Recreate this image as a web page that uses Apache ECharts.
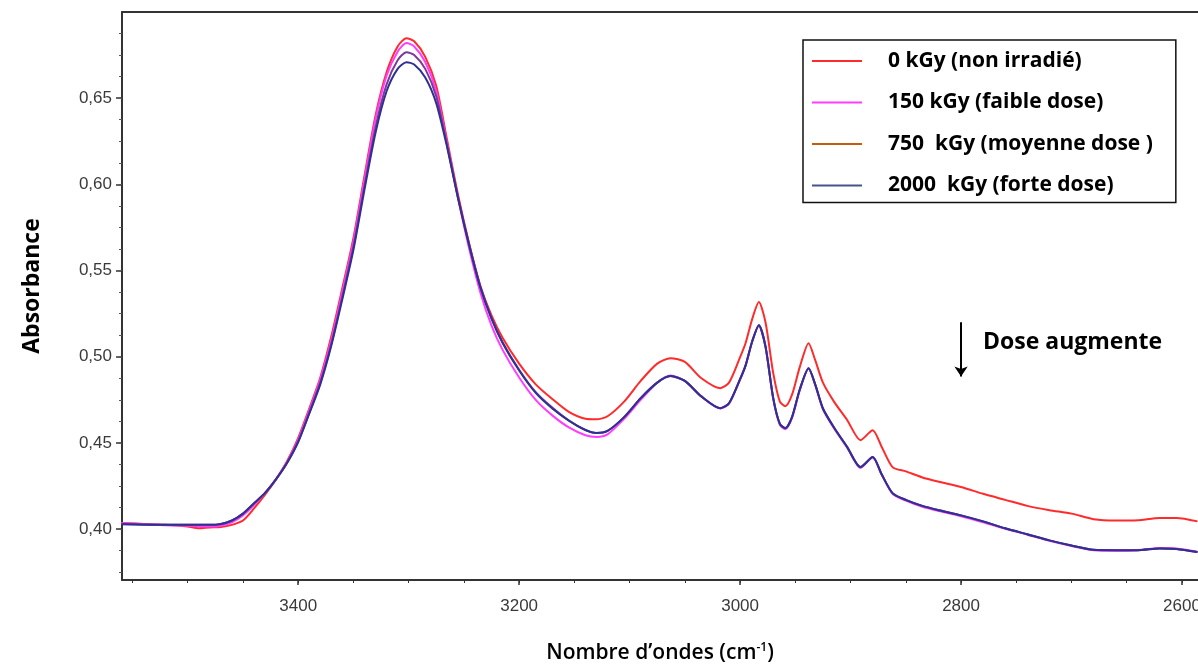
<!DOCTYPE html>
<html><head><meta charset="utf-8">
<script src="https://cdn.jsdelivr.net/npm/echarts@6/dist/echarts.min.js"></script>
<style>html,body{margin:0;padding:0;background:#fff}#c{width:1198px;height:666px}</style>
</head><body><div id="c"></div>
<script>
// Wavenumbers (cm-1)
const wavenumbers = [3560,3540,3520,3500,3490,3480,3470,3460,3450,3440,3430,3420,3410,3400,3390,3380,3370,3360,3350,3340,3330,3320,3310,3302,3295,3285,3275,3265,3255,3245,3235,3225,3215,3200,3185,3170,3155,3140,3130,3120,3105,3090,3075,3063,3050,3035,3018,3010,3000,2995,2989,2983,2977,2970,2964,2959,2953,2946,2938,2932,2925,2915,2903,2891,2880,2872,2862,2850,2835,2820,2800,2780,2760,2740,2720,2700,2680,2660,2640,2620,2605,2586];
const dose0 = [0.4035,0.4030,0.4025,0.4015,0.4005,0.4010,0.4012,0.4025,0.4050,0.4120,0.4200,0.4290,0.4395,0.4530,0.4700,0.4880,0.5120,0.5400,0.5690,0.6050,0.6400,0.6650,0.6800,0.6848,0.6830,0.6740,0.6570,0.6250,0.5930,0.5650,0.5410,0.5240,0.5110,0.4960,0.4840,0.4755,0.4680,0.4640,0.4637,0.4655,0.4740,0.4860,0.4960,0.4992,0.4970,0.4875,0.4818,0.4850,0.4998,0.5080,0.5220,0.5317,0.5200,0.4905,0.4740,0.4713,0.4780,0.4940,0.5079,0.4980,0.4850,0.4740,0.4632,0.4516,0.4574,0.4480,0.4360,0.4335,0.4300,0.4275,0.4245,0.4205,0.4170,0.4135,0.4110,0.4090,0.4058,0.4050,0.4052,0.4065,0.4065,0.4045];
const dose150 = [0.4035,0.4030,0.4022,0.4020,0.4015,0.4015,0.4020,0.4040,0.4080,0.4140,0.4210,0.4290,0.4390,0.4520,0.4690,0.4870,0.5100,0.5380,0.5670,0.6030,0.6380,0.6630,0.6770,0.6820,0.6800,0.6710,0.6540,0.6230,0.5910,0.5620,0.5370,0.5180,0.5040,0.4880,0.4750,0.4660,0.4590,0.4545,0.4535,0.4550,0.4640,0.4750,0.4850,0.4892,0.4860,0.4768,0.4700,0.4728,0.4868,0.4950,0.5090,0.5180,0.5055,0.4755,0.4605,0.4580,0.4645,0.4805,0.4930,0.4835,0.4695,0.4585,0.4472,0.4355,0.4415,0.4318,0.4205,0.4165,0.4130,0.4105,0.4075,0.4040,0.4002,0.3968,0.3932,0.3902,0.3878,0.3875,0.3878,0.3890,0.3888,0.3868];
const dose750 = [0.4030,0.4027,0.4025,0.4025,0.4025,0.4025,0.4030,0.4050,0.4090,0.4150,0.4210,0.4290,0.4385,0.4510,0.4675,0.4850,0.5075,0.5350,0.5640,0.5990,0.6330,0.6580,0.6720,0.6767,0.6750,0.6670,0.6510,0.6220,0.5915,0.5645,0.5405,0.5225,0.5085,0.4925,0.4795,0.4705,0.4630,0.4575,0.4558,0.4570,0.4650,0.4760,0.4850,0.4888,0.4860,0.4770,0.4702,0.4730,0.4870,0.4950,0.5090,0.5183,0.5060,0.4760,0.4610,0.4586,0.4650,0.4810,0.4934,0.4840,0.4700,0.4590,0.4476,0.4360,0.4418,0.4320,0.4209,0.4170,0.4135,0.4110,0.4080,0.4045,0.4005,0.3970,0.3935,0.3905,0.3880,0.3878,0.3878,0.3888,0.3885,0.3867];
const dose2000 = [0.4028,0.4026,0.4025,0.4025,0.4025,0.4025,0.4030,0.4050,0.4090,0.4150,0.4210,0.4290,0.4385,0.4505,0.4670,0.4840,0.5065,0.5335,0.5620,0.5970,0.6300,0.6540,0.6670,0.6709,0.6695,0.6620,0.6470,0.6210,0.5910,0.5640,0.5400,0.5220,0.5080,0.4920,0.4790,0.4700,0.4630,0.4575,0.4558,0.4570,0.4650,0.4760,0.4850,0.4888,0.4860,0.4770,0.4702,0.4730,0.4870,0.4950,0.5090,0.5183,0.5060,0.4760,0.4610,0.4586,0.4650,0.4810,0.4934,0.4840,0.4700,0.4590,0.4476,0.4360,0.4418,0.4320,0.4209,0.4170,0.4135,0.4110,0.4080,0.4045,0.4005,0.3970,0.3935,0.3905,0.3880,0.3878,0.3878,0.3888,0.3885,0.3867];

const seriesNames = ['0 kGy (non irradié)', '150 kGy (faible dose)', '750  kGy (moyenne dose )', '2000  kGy (forte dose)'];
const xTicks = [3400, 3200, 3000, 2800, 2600];
const xMinorTicks = [3550,3500,3450,3400,3350,3300,3250,3200,3150,3100,3050,3000,2950,2900,2850,2800,2750,2700,2650,2600];
const yTicks = [0.40, 0.45, 0.50, 0.55, 0.60, 0.65];
const yMinorTicks = [0.375,0.3875,0.4,0.4125,0.425,0.4375,0.45,0.4625,0.475,0.4875,0.5,0.5125,0.525,0.5375,0.55,0.5625,0.575,0.5875,0.6,0.6125,0.625,0.6375,0.65,0.6625,0.675,0.6875];
const arrowFrom = [2800, 0.520];
const arrowTo = [2800, 0.4885];

const lineColors = ['#ff2b2b', '#ff3cff', '#7a3a9a', '#2e3192'];
const legendColors = ['#ff2b2b', '#ff3cff', '#c55a11', '#44548f'];
const allData = [dose0, dose150, dose750, dose2000];

const tickFont = "'Liberation Sans Narrow','Arial Narrow','Liberation Sans',Arial,sans-serif";
const X_MIN = 2585.5, X_MAX = 3559.5, Y_MIN = 0.3705, Y_MAX = 0.70;

const chart = echarts.init(document.getElementById('c'), null, {renderer: 'canvas'});

const series = allData.map((vals, i) => ({
  name: seriesNames[i],
  type: 'line',
  xAxisIndex: 0, yAxisIndex: 0,
  data: wavenumbers.map((w, k) => [w, vals[k]]),
  symbol: 'none', showSymbol: false,
  smooth: 0.25,
  lineStyle: {color: lineColors[i], width: 2},
  itemStyle: {color: lineColors[i]},
  z: 2 + i,
  animation: false
}));
series[3].markLine = {
  silent: true, symbol: ['none', 'triangle'], symbolSize: 10, symbolRotate: 180,
  lineStyle: {color: '#000', width: 2, type: 'solid'},
  itemStyle: {color: '#000'},
  label: {show: false},
  data: [[{coord: arrowFrom, symbol: 'none'}, {coord: arrowTo, symbol: 'arrow', symbolSize: 10, itemStyle: {color: '#000'}}]],
  animation: false
};

const option = {
  backgroundColor: '#fff',
  animation: false,
  grid: {left: 122, top: 12, right: 0, bottom: 86, containLabel: false, outerBoundsMode: 'none'},
  legend: {
    orient: 'vertical', left: 803, top: 40,
    padding: [10, 23, 6, 9],
    borderColor: '#111', borderWidth: 1.5,
    itemWidth: 50, itemHeight: 14, itemGap: 19.5,
    textStyle: {fontFamily: "'Open Sans', sans-serif", fontWeight: 'bold', fontSize: 21, color: '#000', lineHeight: 22, padding: [0, 0, 0, 21]},
    data: seriesNames.map((n, i) => ({name: n, icon: 'path://M0,0L50,0L50,2L0,2Z', itemStyle: {color: legendColors[i]}, lineStyle: {color: legendColors[i], width: 2}})),
    selectedMode: false
  },
  xAxis: [
    {
      type: 'value', inverse: true, min: X_MIN, max: X_MAX, position: 'bottom',
      name: '{a|Nombre d\u2019ondes (cm}{s|-1}{a|)}', nameLocation: 'middle', nameGap: 62,
      nameTextStyle: {rich: {
        a: {fontFamily: "'Open Sans', sans-serif", fontWeight: 600, fontSize: 21, color: '#000', verticalAlign: 'bottom'},
        s: {fontFamily: "'Open Sans', sans-serif", fontWeight: 600, fontSize: 12, color: '#000', verticalAlign: 'top', padding: [0, 0, 10, 0]}
      }},
      axisLine: {show: true, onZero: false, lineStyle: {color: '#333', width: 2}},
      axisTick: {show: true, customValues: xTicks, length: 5, lineStyle: {color: '#333', width: 1.5}},
      axisLabel: {show: true, customValues: xTicks, margin: 18, fontFamily: tickFont, fontSize: 17, color: '#3a3a3a',
        formatter: v => String(Math.round(v))},
      splitLine: {show: false}
    },
    {
      type: 'value', inverse: true, min: X_MIN, max: X_MAX, position: 'bottom',
      axisLine: {show: false},
      axisTick: {show: true, customValues: xMinorTicks, length: 3, lineStyle: {color: '#333', width: 1}},
      axisLabel: {show: false}, splitLine: {show: false}
    },
    {
      type: 'value', inverse: true, min: X_MIN, max: X_MAX, position: 'top',
      axisLine: {show: true, onZero: false, lineStyle: {color: '#333', width: 2}},
      axisTick: {show: false}, axisLabel: {show: false}, splitLine: {show: false}
    }
  ],
  yAxis: [
    {
      type: 'value', min: Y_MIN, max: Y_MAX, position: 'left',
      name: 'Absorbance', nameLocation: 'middle', nameGap: 78, nameRotate: 90,
      nameTextStyle: {fontFamily: "'Open Sans', sans-serif", fontWeight: 'bold', fontSize: 23, color: '#000', padding: [0, 0, 0, 20]},
      axisLine: {show: true, onZero: false, lineStyle: {color: '#333', width: 2}},
      axisTick: {show: true, customValues: yTicks, length: 6, lineStyle: {color: '#333', width: 1.5}},
      axisLabel: {show: true, customValues: yTicks, margin: 10, fontFamily: tickFont, fontSize: 17, color: '#3a3a3a',
        formatter: v => v.toFixed(2).replace('.', ',')},
      splitLine: {show: false}
    },
    {
      type: 'value', min: Y_MIN, max: Y_MAX, position: 'left',
      axisLine: {show: false},
      axisTick: {show: true, customValues: yMinorTicks, length: 3, lineStyle: {color: '#555', width: 1}},
      axisLabel: {show: false}, splitLine: {show: false}
    }
  ],
  graphic: [
    {type: 'text', left: 983, top: 331, silent: true,
     style: {text: 'Dose augmente', fontFamily: "'Open Sans', sans-serif", fontWeight: 'bold', fontSize: 23, fill: '#000'}}
  ],
  series: series
};
chart.setOption(option);
</script>
</body></html>
